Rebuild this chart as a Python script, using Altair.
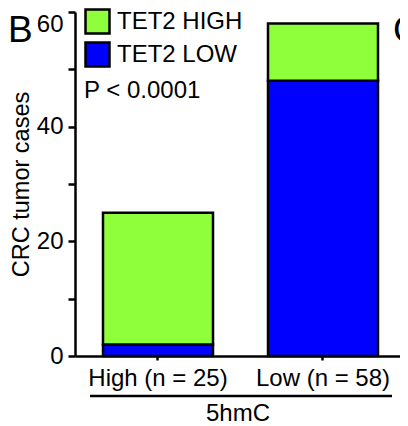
import altair as alt
import pandas as pd

# data
groups = ["High (n = 25)", "Low (n = 58)"]
tet2_low = [2, 48]
tet2_high = [23, 10]
statuses = ["TET2 HIGH", "TET2 LOW"]
colors = ["#8FFF3C", "#0000FF"]
y_ticks = [0, 10, 20, 30, 40, 50, 60]

rows = []
for g, lo, hi in zip(groups, tet2_low, tet2_high):
    rows.append({"group": g, "status": "TET2 LOW", "count": lo, "ord": 0})
    rows.append({"group": g, "status": "TET2 HIGH", "count": hi, "ord": 1})
df = pd.DataFrame(rows)

FONT = "Liberation Sans"
FS = 24

bars = alt.Chart(df).mark_bar(stroke="black", strokeWidth=2.5).encode(
    x=alt.X("group:N", sort=groups,
            scale=alt.Scale(paddingInner=0.3333, paddingOuter=0.1515, align=0.56),
            axis=alt.Axis(title="5hmC", labelAngle=0, tickSize=4, tickWidth=2.5,
                          tickColor="black", domainColor="black", domainWidth=2.5,
                          labelFontSize=FS, labelPadding=6, labelColor="black",
                          titleFontSize=FS, titleFontWeight="normal", titleColor="black",
                          titlePadding=11, labelFont=FONT, titleFont=FONT)),
    y=alt.Y("sum(count):Q", stack="zero",
            scale=alt.Scale(domain=[0, 60], nice=False),
            axis=alt.Axis(title="CRC tumor cases", values=y_ticks,
                          labelExpr="datum.value % 20 == 0 ? datum.label : ''",
                          labelBaseline=alt.ExprRef(expr="datum.value == 60 ? 'top' : 'middle'"),
                          grid=False, tickSize=7, tickWidth=2.5, tickColor="black",
                          domainColor="black", domainWidth=2.5, labelFontSize=FS,
                          labelPadding=5, labelColor="black", titleFontSize=23.5,
                          titleFontWeight="normal", titleColor="black", titlePadding=3,
                          labelFont=FONT, titleFont=FONT)),
    color=alt.Color("status:N", scale=alt.Scale(domain=statuses, range=colors),
                    legend=alt.Legend(title="P < 0.0001", orient="none", legendX=9, legendY=-4,
                                      titleOrient="bottom", titleAnchor="start",
                                      titleFontSize=FS, titleFontWeight="normal",
                                      titleColor="black", titleFont=FONT, titlePadding=7,
                                      symbolType="square", symbolSize=576,
                                      symbolStrokeColor="black", symbolStrokeWidth=2.5,
                                      symbolOpacity=1, labelFontSize=FS, labelFont=FONT,
                                      labelColor="black", labelOffset=6, rowPadding=-2,
                                      padding=0)),
    order=alt.Order("ord:Q"),
)

one = pd.DataFrame({"a": [0]})
underline = alt.Chart(one).mark_rule(color="black", strokeWidth=2.5).encode(
    x=alt.value(15), x2=alt.value(317), y=alt.value(384))

letter_b = alt.Chart(one).mark_text(text="B", fontSize=37, font=FONT, align="left",
                                    baseline="alphabetic", color="black").encode(
    x=alt.value(-67), y=alt.value(30))
letter_c = alt.Chart(one).mark_text(text="C", fontSize=37, font=FONT, align="left",
                                    baseline="alphabetic", color="black").encode(
    x=alt.value(318), y=alt.value(30))

chart = alt.layer(bars, underline, letter_b, letter_c).properties(
    width=325, height=344,
    autosize=alt.AutoSizeParams(type="none"),
    padding={"left": 67, "top": 4, "right": 0, "bottom": 68},
).configure_view(strokeWidth=0)

chart.save("out.html", embed_options={"renderer": "svg", "actions": False})
